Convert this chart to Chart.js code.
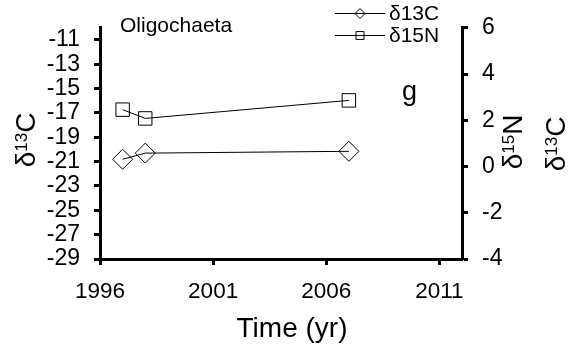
<!DOCTYPE html>
<html>
<head>
<meta charset="utf-8">
<script src="https://cdn.jsdelivr.net/npm/chart.js"></script>
<style>
  body { margin: 0; background: #fff; }
  canvas { display: block; }
</style>
</head>
<body>
<canvas id="chart" width="571" height="351"></canvas>
<script>
// Data
const years = [1997, 1998, 2007]
const d13C = [-20.8, -20.3, -20.15]
const d15N = [2.46, 2.08, 2.86]

const xTicks = [1996, 2001, 2006, 2011]
const leftTicks = [-29, -27, -25, -23, -21, -19, -17, -15, -13, -11]
const rightTicks = [-4, -2, 0, 2, 4, 6]

const FONT = "'Liberation Sans', Arial, sans-serif"

function toPoints(ys) {
  return years.map((x, i) => ({ x: x, y: ys[i] }))
}

function fixedTicks(values) {
  return (scale) => {
    scale.ticks = values.map((v) => ({ value: v }))
  }
}

// text with a superscript part, optionally rotated
function drawRich(ctx, parts, x, y, rot) {
  ctx.save()
  ctx.translate(x, y)
  ctx.rotate(rot)
  ctx.textAlign = "left"
  ctx.textBaseline = "alphabetic"
  let total = 0
  parts.forEach((p) => {
    ctx.font = p.size + "px " + FONT
    p.w = ctx.measureText(p.text).width
    total += p.w
  })
  let cx = -total / 2
  parts.forEach((p) => {
    ctx.font = p.size + "px " + FONT
    ctx.fillText(p.text, cx, -(p.rise || 0))
    cx += p.w
  })
  ctx.restore()
}

function marker(ctx, style, x, y, r) {
  ctx.beginPath()
  if (style === "diamond") {
    ctx.moveTo(x - r, y)
    ctx.lineTo(x, y - r)
    ctx.lineTo(x + r, y)
    ctx.lineTo(x, y + r)
  } else {
    ctx.rect(x - r, y - r, 2 * r, 2 * r)
  }
  ctx.closePath()
  ctx.stroke()
}

const textPlugin = {
  id: "texts",
  afterDraw(chart) {
    const ctx = chart.ctx
    ctx.save()
    ctx.fillStyle = "#000"
    ctx.strokeStyle = "#000"
    ctx.lineWidth = 1

    // panel label and letter
    ctx.textAlign = "left"
    ctx.textBaseline = "alphabetic"
    ctx.font = "21px " + FONT
    ctx.fillText("Oligochaeta", 120, 32)
    ctx.font = "27px " + FONT
    ctx.fillText("g", 402, 100)

    // x axis title
    ctx.textAlign = "center"
    ctx.font = "28px " + FONT
    ctx.fillText("Time (yr)", 292, 337)

    // rotated axis titles
    const up = -Math.PI / 2
    drawRich(ctx, [{ text: "δ", size: 28 }, { text: "13", size: 17, rise: 8 }, { text: "C", size: 28 }], 35, 140, up)
    drawRich(ctx, [{ text: "δ", size: 28 }, { text: "15", size: 17, rise: 8 }, { text: "N", size: 28 }], 522, 142, up)
    drawRich(ctx, [{ text: "δ", size: 28 }, { text: "13", size: 17, rise: 8 }, { text: "C", size: 28 }], 565, 144, up)

    // legend
    const rows = [
      { label: "δ13C", style: "diamond", r: 5, y: 13.5 },
      { label: "δ15N", style: "square", r: 4, y: 35.5 }
    ]
    ctx.textAlign = "left"
    ctx.textBaseline = "middle"
    ctx.font = "21px " + FONT
    rows.forEach((row) => {
      ctx.beginPath()
      ctx.moveTo(335, row.y)
      ctx.lineTo(385, row.y)
      ctx.stroke()
      marker(ctx, row.style, 360, row.y, row.r)
      ctx.fillText(row.label, 389, row.y + 1)
    })
    ctx.restore()
  }
}

const axisLine = { display: true, width: 3, color: "#000" }
const axisGrid = { drawOnChartArea: false, drawTicks: true, tickLength: 6, tickWidth: 3, tickColor: "#000", color: "#000" }
const xTickFont = { family: FONT, size: 22.5 }
const yTickFont = { family: FONT, size: 23 }

new Chart(document.getElementById("chart"), {
  type: "line",
  data: {
    datasets: [
      {
        label: "δ13C",
        data: toPoints(d13C),
        yAxisID: "y",
        borderColor: "#000",
        borderWidth: 1,
        pointStyle: "rectRot",
        pointRadius: 10,
        pointBorderColor: "#000",
        pointBackgroundColor: "rgba(0,0,0,0)",
        pointBorderWidth: 1
      },
      {
        label: "δ15N",
        data: toPoints(d15N),
        yAxisID: "y1",
        borderColor: "#000",
        borderWidth: 1,
        pointStyle: "rect",
        pointRadius: 9.5,
        pointBorderColor: "#000",
        pointBackgroundColor: "rgba(0,0,0,0)",
        pointBorderWidth: 1
      }
    ]
  },
  options: {
    responsive: false,
    animation: false,
    layout: { padding: { top: 14, left: 0, right: 0, bottom: 0 } },
    plugins: {
      legend: { display: false },
      tooltip: { enabled: false }
    },
    scales: {
      x: {
        type: "linear",
        min: 1996,
        max: 2012,
        afterBuildTicks: fixedTicks(xTicks),
        afterFit: (s) => { s.height = 92 },
        border: axisLine,
        grid: axisGrid,
        ticks: { color: "#000", font: xTickFont, padding: 13, maxRotation: 0, autoSkip: false, callback: (v) => String(v) }
      },
      y: {
        position: "left",
        min: -29,
        max: -10,
        afterBuildTicks: fixedTicks(leftTicks),
        afterFit: (s) => { s.width = 100 },
        border: axisLine,
        grid: axisGrid,
        ticks: { color: "#000", font: yTickFont, padding: 14, autoSkip: false, callback: (v) => String(v) }
      },
      y1: {
        position: "right",
        min: -4,
        max: 6,
        afterBuildTicks: fixedTicks(rightTicks),
        afterFit: (s) => { s.width = 109 },
        border: axisLine,
        grid: axisGrid,
        ticks: { color: "#000", font: yTickFont, padding: 14, autoSkip: false, callback: (v) => String(v) }
      }
    }
  },
  plugins: [textPlugin]
})
</script>
</body>
</html>
